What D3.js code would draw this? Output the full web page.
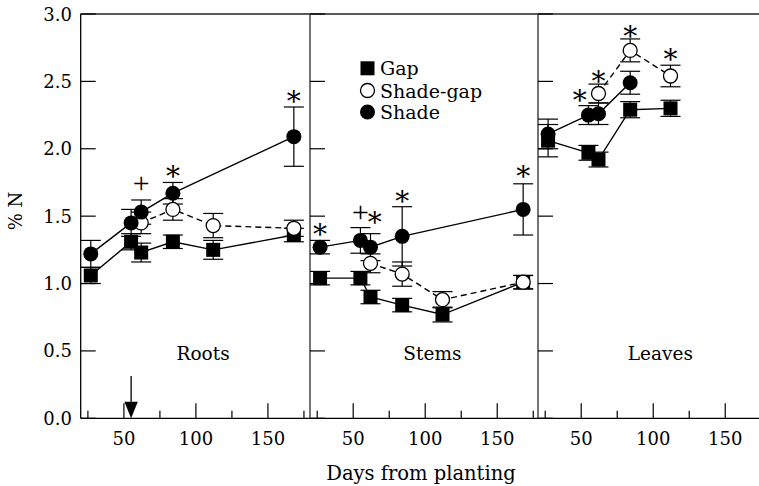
<!DOCTYPE html>
<html><head><meta charset="utf-8">
<script src="https://cdn.jsdelivr.net/npm/d3@7"></script>
<style>body{margin:0;background:#fff}svg{display:block}text{font-family:"DejaVu Serif",serif;fill:#000}</style>
</head><body>
<script>
// ---------- data ----------
const days = [27, 55, 62, 84, 112, 168];
const panels = ["Roots", "Stems", "Leaves"];
const seriesNames = ["Gap", "Shade-gap", "Shade"];

const rootsGap = [1.06, 1.31, 1.23, 1.31, 1.25, 1.36];
const rootsGapErr = [0.06, 0.06, 0.07, 0.05, 0.07, 0.05];
const rootsShadeGap = [null, null, 1.45, 1.55, 1.43, 1.41];
const rootsShadeGapErr = [null, null, 0.08, 0.08, 0.09, 0.06];
const rootsShade = [1.22, 1.45, 1.53, 1.67, null, 2.09];
const rootsShadeErr = [0.10, 0.10, 0.09, 0.08, null, 0.22];

const stemsGap = [1.04, 1.04, 0.90, 0.84, 0.77, 1.01];
const stemsGapErr = [0.05, 0.05, 0.05, 0.05, 0.055, 0.05];
const stemsShadeGap = [null, null, 1.15, 1.07, 0.88, 1.01];
const stemsShadeGapErr = [null, null, 0.07, 0.09, 0.06, 0.05];
const stemsShade = [1.27, 1.32, 1.27, 1.35, null, 1.55];
const stemsShadeErr = [0.05, 0.095, 0.10, 0.22, null, 0.19];

const leavesGap = [2.06, 1.97, 1.92, 2.29, 2.30, null];
const leavesGapErr = [0.12, 0.055, 0.055, 0.06, 0.06, null];
const leavesShadeGap = [null, null, 2.41, 2.73, 2.54, null];
const leavesShadeGapErr = [null, null, 0.07, 0.085, 0.08, null];
const leavesShade = [2.11, 2.25, 2.26, 2.49, null, null];
const leavesShadeErr = [0.11, 0.07, 0.08, 0.085, null, null];

// significance marks: [panel index, day, value, symbol]
const marks = [
  [0, 62, 1.73, "+"], [0, 84, 1.84, "*"], [0, 168, 2.40, "*"],
  [1, 27, 1.41, "*"], [1, 55, 1.51, "+"], [1, 65, 1.50, "*"], [1, 84, 1.66, "*"], [1, 168, 1.84, "*"],
  [2, 49, 2.41, "*"], [2, 62, 2.55, "*"], [2, 84, 2.88, "*"], [2, 112, 2.71, "*"]
];
const arrowDay = 55;
const labelDay = 105;
const xMajorTicks = [50, 100, 150];
const xMinorTicks = [25, 75, 125, 175];
const yTicks = [0, 0.5, 1.0, 1.5, 2.0, 2.5, 3.0];
const xDomain = [20, 179];
const yDomain = [0, 3];

// ---------- layout ----------
const W = 759, H = 486;
const plotTop = 14, plotBottom = 418.3;
const panelLeft = [80.7, 310, 538];
const panelW = 229;

const svg = d3.select("body").append("svg").attr("width", W).attr("height", H);
const y = d3.scaleLinear().domain(yDomain).range([plotBottom, plotTop]);
const xs = panelLeft.map(l => d3.scaleLinear().domain(xDomain).range([l, l + panelW]));

const data = [
  [[rootsGap, rootsGapErr], [rootsShadeGap, rootsShadeGapErr], [rootsShade, rootsShadeErr]],
  [[stemsGap, stemsGapErr], [stemsShadeGap, stemsShadeGapErr], [stemsShade, stemsShadeErr]],
  [[leavesGap, leavesGapErr], [leavesShadeGap, leavesShadeGapErr], [leavesShade, leavesShadeErr]]
];

// frame
const frameEnd = panelLeft[2] + panelW;
svg.append("line").attr("x1", panelLeft[0]).attr("x2", frameEnd).attr("y1", plotTop).attr("y2", plotTop)
  .attr("stroke", "#222").attr("stroke-width", 1.3);
svg.append("line").attr("x1", panelLeft[0]).attr("x2", frameEnd).attr("y1", plotBottom).attr("y2", plotBottom)
  .attr("stroke", "#000").attr("stroke-width", 1.3);
panelLeft.forEach((l, i) => {
  svg.append("line").attr("x1", l).attr("x2", l).attr("y1", plotTop).attr("y2", plotBottom)
    .attr("stroke", i === 0 ? "#000" : "#444").attr("stroke-width", i === 0 ? 1.3 : 1.5);
});

// axes ticks
xs.forEach((x, pi) => {
  const g = svg.append("g");
  g.selectAll("line.maj").data(xMajorTicks).join("line").attr("class", "maj")
    .attr("x1", d => x(d)).attr("x2", d => x(d)).attr("y1", plotBottom).attr("y2", plotBottom - 15)
    .attr("stroke", "#000").attr("stroke-width", 1.2);
  g.selectAll("line.min").data(xMinorTicks).join("line").attr("class", "min")
    .attr("x1", d => x(d)).attr("x2", d => x(d)).attr("y1", plotBottom).attr("y2", plotBottom - 7.5)
    .attr("stroke", "#000").attr("stroke-width", 1.2);
  g.selectAll("text.xt").data(xMajorTicks).join("text").attr("class", "xt")
    .attr("x", d => x(d)).attr("y", 445).attr("text-anchor", "middle")
    .attr("font-size", 18).text(d => d);
  g.selectAll("line.yt").data(yTicks).join("line").attr("class", "yt")
    .attr("x1", x.range()[0]).attr("x2", x.range()[0] + 15)
    .attr("y1", d => y(d)).attr("y2", d => y(d))
    .attr("stroke", "#000").attr("stroke-width", 1.2);
  svg.append("text").attr("x", x(labelDay)).attr("y", 360).attr("text-anchor", "middle")
    .attr("font-size", 18.5).text(panels[pi]);
});

// y tick labels
svg.selectAll("text.yl").data(yTicks).join("text").attr("class", "yl")
  .attr("x", 72).attr("y", d => y(d) + 6.5).attr("text-anchor", "end")
  .attr("font-size", 18).text(d => d.toFixed(1));

// axis titles
svg.append("text").attr("transform", "translate(22,211) rotate(-90)")
  .attr("text-anchor", "middle").attr("font-size", 18).text("% N");
svg.append("text").attr("x", 421).attr("y", 480).attr("text-anchor", "middle")
  .attr("font-size", 19.5).text("Days from planting");

// arrow
{
  const ax = xs[0](arrowDay);
  svg.append("line").attr("x1", ax).attr("x2", ax).attr("y1", 376).attr("y2", 405)
    .attr("stroke", "#000").attr("stroke-width", 1.3);
  svg.append("path").attr("d", `M${ax - 6.7},401.7L${ax + 6.7},401.7L${ax},${plotBottom}Z`).attr("fill", "#000");
}

// series
const dashes = [null, "6,4", null];
data.forEach((pd, pi) => {
  const x = xs[pi];
  const g = svg.append("g");
  pd.forEach(([vals, errs], si) => {
    const pts = days.map((d, i) => ({ d, v: vals[i], e: errs[i] })).filter(p => p.v != null);
    const line = d3.line().x(p => x(p.d)).y(p => y(p.v));
    g.append("path").attr("d", line(pts)).attr("fill", "none").attr("stroke", "#000")
      .attr("stroke-width", 1.4).attr("stroke-dasharray", dashes[si]);
  });
  pd.forEach(([vals, errs]) => {
    const pts = days.map((d, i) => ({ d, v: vals[i], e: errs[i] })).filter(p => p.v != null);
    pts.forEach(p => {
      const cx = x(p.d), y1 = y(p.v + p.e), y2 = y(p.v - p.e);
      g.append("line").attr("x1", cx).attr("x2", cx).attr("y1", y1).attr("y2", y2).attr("stroke", "#000").attr("stroke-width", 1.2);
      [y1, y2].forEach(yy => g.append("line").attr("x1", cx - 10).attr("x2", cx + 10).attr("y1", yy).attr("y2", yy)
        .attr("stroke", "#000").attr("stroke-width", 1.2));
    });
  });
  pd.forEach(([vals], si) => {
    const pts = days.map((d, i) => ({ d, v: vals[i] })).filter(p => p.v != null);
    pts.forEach(p => {
      const cx = x(p.d), cy = y(p.v);
      if (si === 0) {
        g.append("rect").attr("x", cx - 7).attr("y", cy - 7).attr("width", 14).attr("height", 14).attr("fill", "#000");
      } else if (si === 1) {
        g.append("circle").attr("cx", cx).attr("cy", cy).attr("r", 7).attr("fill", "#fff").attr("stroke", "#000").attr("stroke-width", 1.3);
      } else {
        g.append("circle").attr("cx", cx).attr("cy", cy).attr("r", 7.5).attr("fill", "#000");
      }
    });
  });
});

// significance marks
marks.forEach(([pi, d, v, s]) => {
  const cx = xs[pi](d), cy = y(v);
  if (s === "*") {
    svg.append("text").attr("x", cx).attr("y", cy + 16).attr("text-anchor", "middle")
      .attr("font-size", 28).style("font-family", "'DejaVu Serif',serif").text("*");
  } else {
    svg.append("text").attr("x", cx).attr("y", cy + 7.5).attr("text-anchor", "middle")
      .attr("font-size", 30).style("font-family", "'Liberation Serif',serif").text("+");
  }
});

// legend
const legY = [68.3, 90.5, 112];
const lg = svg.append("g");
seriesNames.forEach((n, i) => {
  const cx = 367.5, cy = legY[i];
  if (i === 0) lg.append("rect").attr("x", cx - 7).attr("y", cy - 7).attr("width", 14).attr("height", 14).attr("fill", "#000");
  else if (i === 1) lg.append("circle").attr("cx", cx).attr("cy", cy).attr("r", 7).attr("fill", "#fff").attr("stroke", "#000").attr("stroke-width", 1.3);
  else lg.append("circle").attr("cx", cx).attr("cy", cy).attr("r", 7.5).attr("fill", "#000");
  lg.append("text").attr("x", 380).attr("y", cy + 7).attr("font-size", 19).text(n);
});
</script>
</body></html>
